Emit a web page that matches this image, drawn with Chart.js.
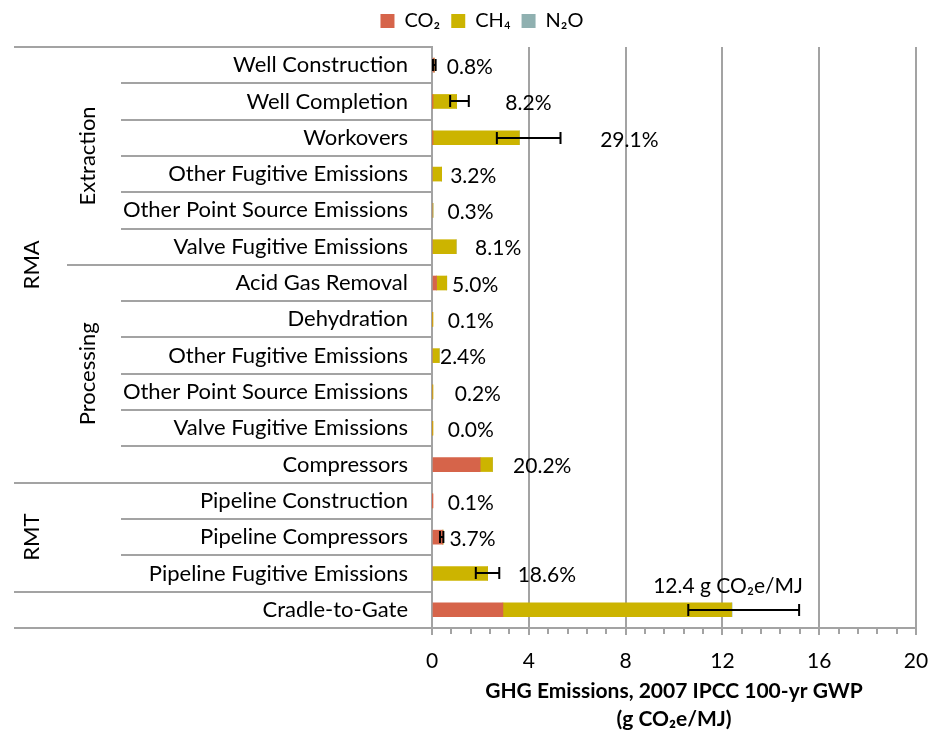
<!DOCTYPE html>
<html><head><meta charset="utf-8">
<script src="https://cdn.jsdelivr.net/npm/chart.js@4/dist/chart.umd.min.js"></script>
<style>html,body{margin:0;padding:0;background:#fff}</style>
</head><body>
<canvas id="c" width="928" height="734"></canvas>
<script>
// ---------- data ----------
const categories = [
  'Well Construction','Well Completion','Workovers','Other Fugitive Emissions',
  'Other Point Source Emissions','Valve Fugitive Emissions',
  'Acid Gas Removal','Dehydration','Other Fugitive Emissions',
  'Other Point Source Emissions','Valve Fugitive Emissions','Compressors',
  'Pipeline Construction','Pipeline Compressors','Pipeline Fugitive Emissions',
  'Cradle-to-Gate'
];
const co2 = [0.09, 0.02, 0.02, 0.00, 0.00, 0.00, 0.19, 0.00, 0.00, 0.00, 0.00, 1.99, 0.012, 0.44, 0.00, 2.93];
const ch4 = [0.00, 1.00, 3.59, 0.40, 0.04, 1.00, 0.42, 0.012, 0.30, 0.02, 0.004, 0.51, 0.00, 0.02, 2.30, 9.45];
const n2o = [0, 0, 0, 0, 0, 0, 0, 0, 0, 0, 0, 0, 0, 0, 0, 0.02];
const errLow  = [0.04, 0.75, 2.68, null, null, null, null, null, null, null, null, null, null, 0.33, 1.81, 10.59];
const errHigh = [0.15, 1.52, 5.31, null, null, null, null, null, null, null, null, null, null, 0.47, 2.78, 15.17];
const shareLabels = ['0.8%','8.2%','29.1%','3.2%','0.3%','8.1%','5.0%','0.1%','2.4%','0.2%','0.0%','20.2%','0.1%','3.7%','18.6%','12.4 g CO\u2082e/MJ'];
const labelX = [0.61, 3.03, 6.95, 0.75, 0.64, 1.78, 0.83, 0.65, 0.33, 0.94, 0.65, 3.35, 0.65, 0.72, 3.54, 9.14];
const level1Groups = [{name:'RMA', from:0, to:12}, {name:'RMT', from:12, to:15}];
const level2Groups = [{name:'Extraction', from:0, to:6}, {name:'Processing', from:6, to:12}];
const seriesNames = ['CO\u2082', 'CH\u2084', 'N\u2082O'];
const xTitle = ['GHG Emissions, 2007 IPCC 100-yr GWP', '(g CO\u2082e/MJ)'];

// ---------- styles ----------
const FONT = 'Lato, "DejaVu Sans", sans-serif';
const GRID = '#a3a3a3';
const colors = ['#d6644a', '#ccb400', '#8fb0b0'];

const legendSpace = {
  id: 'legendSpace',
  beforeInit(chart) {
    const orig = chart.legend.fit;
    chart.legend.fit = function () { orig.bind(chart.legend)(); this.height += 6; };
  }
};

const hierarchy = {
  id: 'hierarchy',
  afterDraw(chart) {
    const ctx = chart.ctx, y = chart.scales.y, area = chart.chartArea;
    const n = categories.length;
    const l1b = new Set([0, n]); level1Groups.forEach(g => { l1b.add(g.from); l1b.add(g.to); });
    const l2b = new Set(); level2Groups.forEach(g => { l2b.add(g.from); l2b.add(g.to); });
    ctx.save();
    ctx.strokeStyle = GRID; ctx.lineWidth = 2;
    for (let b = 0; b <= n; b++) {
      const py = Math.round(y.getPixelForValue(b - 0.5));
      const x0 = l1b.has(b) ? 14 : (l2b.has(b) ? 67 : 121);
      ctx.beginPath(); ctx.moveTo(x0, py); ctx.lineTo(area.left, py); ctx.stroke();
    }
    ctx.fillStyle = '#000'; ctx.font = '22px ' + FONT;
    ctx.textAlign = 'center'; ctx.textBaseline = 'middle';
    const drawGroup = (g, cx) => {
      const y0 = y.getPixelForValue(g.from - 0.5), y1 = y.getPixelForValue(g.to - 0.5);
      ctx.save(); ctx.translate(cx, (y0 + y1) / 2); ctx.rotate(-Math.PI / 2);
      ctx.fillText(g.name, 0, 0); ctx.restore();
    };
    level1Groups.forEach(g => drawGroup(g, 32));
    level2Groups.forEach(g => drawGroup(g, 88));
    // minor ticks on x axis
    const x = chart.scales.x;
    ctx.strokeStyle = GRID; ctx.lineWidth = 2;
    for (let k = 0; k <= 25; k++) {
      if (k % 5 === 0) continue;
      const px = Math.round(x.getPixelForValue(k * 0.8));
      ctx.beginPath(); ctx.moveTo(px, area.bottom); ctx.lineTo(px, area.bottom + 6); ctx.stroke();
    }
    ctx.restore();
  }
};

const extras = {
  id: 'extras',
  afterDatasetsDraw(chart) {
    const ctx = chart.ctx, x = chart.scales.x, y = chart.scales.y;
    ctx.save();
    ctx.strokeStyle = '#000'; ctx.lineWidth = 2;
    categories.forEach((c, i) => {
      if (errLow[i] == null) return;
      const cy = Math.round(y.getPixelForValue(i));
      const a = x.getPixelForValue(errLow[i]), b = x.getPixelForValue(errHigh[i]);
      ctx.beginPath();
      ctx.moveTo(a, cy); ctx.lineTo(b, cy);
      ctx.moveTo(a, cy - 6); ctx.lineTo(a, cy + 6);
      ctx.moveTo(b, cy - 6); ctx.lineTo(b, cy + 6);
      ctx.stroke();
    });
    ctx.fillStyle = '#000'; ctx.font = '21px ' + FONT;
    ctx.textAlign = 'left'; ctx.textBaseline = 'middle';
    shareLabels.forEach((t, i) => {
      const last = i === shareLabels.length - 1;
      ctx.fillText(t, x.getPixelForValue(labelX[i]), y.getPixelForValue(i) + (last ? -24 : 2));
    });
    ctx.restore();
  }
};

new Chart(document.getElementById('c'), {
  type: 'bar',
  data: {
    labels: categories,
    datasets: [co2, ch4, n2o].map((d, k) => ({
      label: seriesNames[k], data: d, backgroundColor: colors[k], borderWidth: 0,
      barThickness: 14
    }))
  },
  options: {
    responsive: false, animation: false, indexAxis: 'y',
    layout: { padding: { left: 38, right: 2, top: 0, bottom: 1 } },
    plugins: {
      legend: { position: 'top', labels: { boxWidth: 14, boxHeight: 14, color: '#000', padding: 11, font: { family: FONT, size: 20 } } },
      tooltip: { enabled: false }
    },
    scales: {
      x: {
        stacked: true, min: 0, max: 20,
        ticks: { stepSize: 4, color: '#000', padding: 14, font: { family: FONT, size: 21 } },
        grid: { color: GRID, lineWidth: 2, tickLength: 7 },
        border: { color: GRID, width: 2 },
        title: { display: true, text: xTitle, color: '#000', padding: { top: -11, bottom: 0 }, font: { family: FONT, size: 21, weight: 'bold', lineHeight: 1.33 } },
        afterFit(s) { s.paddingRight = 12; }
      },
      y: {
        stacked: true,
        grid: { display: false, drawTicks: false },
        border: { display: true, color: GRID, width: 2 },
        ticks: { color: '#000', padding: 24, autoSkip: false, font: { family: FONT, size: 22 } },
        afterFit(s) { s.width = 394; }
      }
    }
  },
  plugins: [legendSpace, hierarchy, extras]
});
</script>
</body></html>
